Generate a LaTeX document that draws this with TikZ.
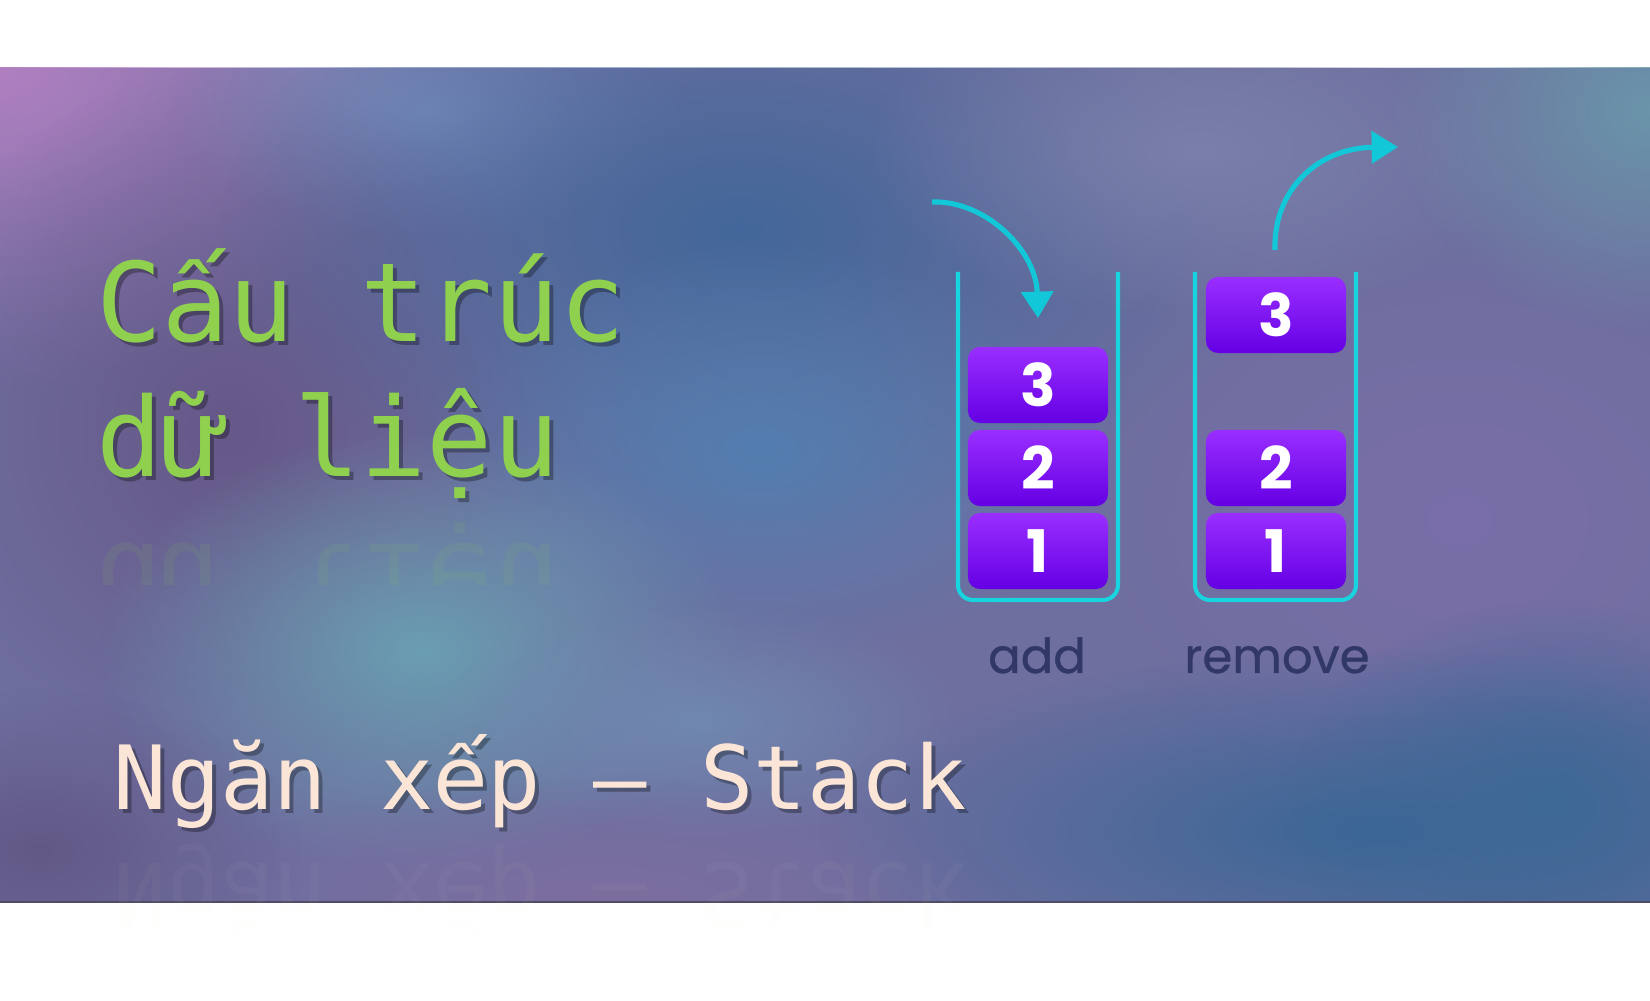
\documentclass[tikz,border=0pt]{standalone}
\usepackage{fontspec}
\newfontfamily\titlefont{DejaVu Sans Mono}
\newfontfamily\accfont{DejaVu Sans}
\newfontfamily\labelfont{Poppins}[FakeBold=0.8]
\newfontfamily\digitfont{Poppins}
\usetikzlibrary{arrows.meta,fadings}

\definecolor{bgBase}{HTML}{6E6F9F}
\definecolor{titleGreen}{HTML}{8FD14F}
\definecolor{subPeach}{HTML}{FBE5D6}
\definecolor{blkTop}{HTML}{9A2EFF}
\definecolor{blkBot}{HTML}{6400E4}
\definecolor{tubeCyan}{HTML}{18D4DE}
\definecolor{arrowCyan}{HTML}{12C8D8}
\definecolor{lblNavy}{HTML}{313868}

% 等宽字体中缺少的越南语字母, 用 DejaVu Sans 补齐
\newcommand{\monochar}[1]{\makebox[0.602em]{\accfont #1}}

\tikzfading[name=fuzzy, inner color=transparent!0, outer color=transparent!100]

\begin{document}
\begin{tikzpicture}[
        x=0.01cm, y=-0.01cm,
        >=latex,
        % 背景色块
        blob/.style={path fading=fuzzy},
        % 栈中的方块
        blk/.style={
            rectangle,
            rounded corners=0.12cm,
            minimum width=1.4cm,
            minimum height=0.76cm,
            top color=blkTop,
            bottom color=blkBot,
            text=white,
            inner sep=0pt,
            font=\digitfont\bfseries\fontsize{16.7}{20}\selectfont
        },
        % 容器
        tube/.style={
            draw=tubeCyan,
            line width=1.15pt,
            rounded corners=0.15cm
        },
        % 进出箭头
        flow/.style={
            -{Triangle[width=9pt,length=7.5pt]},
            draw=arrowCyan,
            line width=1.45pt
        },
        lbl/.style={
            anchor=base,
            inner sep=0pt,
            text=lblNavy,
            font=\labelfont\fontsize{13.7}{16}\selectfont
        },
        head/.style={
            anchor=base west,
            inner sep=0pt,
            text=titleGreen,
            font=\titlefont\fontsize{31.2}{38}\selectfont
        },
        sub/.style={
            anchor=base west,
            inner sep=0pt,
            text=subPeach,
            font=\titlefont\fontsize{25.2}{31}\selectfont
        },
        shade_text/.style={text=black, opacity=0.3}
    ]

    \useasboundingbox (0,0) rectangle (1650,1001);
    \fill[white] (0,0) rectangle (1650,1001);

    % --- 1. 背景 ---
    \begin{scope}
        \clip (0,68) rectangle (1650,902);
        \fill[bgBase] (0,68) rectangle (1650,902);
        \fill[blob, color={rgb,255:red,178;green,128;blue,194}] (0,60) ellipse [x radius=430, y radius=330];
        \fill[blob, color={rgb,255:red,124;green,142;blue,189}] (430,110) ellipse [x radius=260, y radius=130];
        \fill[blob, color={rgb,255:red,102;green,88;blue,136}] (230,430) ellipse [x radius=340, y radius=360];
        \fill[blob, color={rgb,255:red,67;green,103;blue,154}] (740,230) ellipse [x radius=520, y radius=300];
        \fill[blob, color={rgb,255:red,84;green,126;blue,176}] (760,450) ellipse [x radius=340, y radius=210];
        \fill[blob, color={rgb,255:red,106;green,158;blue,178}] (420,650) ellipse [x radius=320, y radius=220];
        \fill[blob, color={rgb,255:red,112;green,136;blue,176}] (700,720) ellipse [x radius=260, y radius=120];
        \fill[blob, color={rgb,255:red,124;green,110;blue,160}] (600,900) ellipse [x radius=420, y radius=120];
        \fill[blob, color={rgb,255:red,122;green,110;blue,168}] (1460,520) ellipse [x radius=380, y radius=290];
        \fill[blob, color={rgb,255:red,122;green,128;blue,170}] (1200,150) ellipse [x radius=340, y radius=170];
        \fill[blob, color={rgb,255:red,106;green,149;blue,170}] (1650,110) ellipse [x radius=260, y radius=220];
        \fill[blob, color={rgb,255:red,58;green,102;blue,150}] (1380,830) ellipse [x radius=560, y radius=180];
        \fill[blob, color={rgb,255:red,62;green,104;blue,150}] (1550,800) ellipse [x radius=260, y radius=200];
        \fill[blob, color={rgb,255:red,98;green,88;blue,134}] (40,850) ellipse [x radius=260, y radius=160];
    \end{scope}
    \draw[color={rgb,255:red,80;green,76;blue,104}, line width=0.5pt] (0,902) -- (1650,902);

    % --- 2. 标题 ---
    \node (t1s) [head, shade_text] at (100,346) {C\monochar{ấ}u trúc};
    \node (t2s) [head, shade_text] at (100,481) {dữ liệu};
    \node (t1) [head] at (96,342) {C\monochar{ấ}u trúc};
    \node (t2) [head] at (96,477) {dữ liệu};
    % 倒影
    \begin{scope}
        \clip (80,522) rectangle (600,585);
        \node (t2r) [head, yscale=-1, opacity=0.09] at (96,545) {dữ liệu};
    \end{scope}

    \node (subs) [sub, shade_text] at (117,814) {Ngăn x\monochar{ế}p – Stack};
    \node (subt) [sub] at (113,810) {Ngăn x\monochar{ế}p – Stack};
    \begin{scope}
        \clip (90,840) rectangle (1000,960);
        \node (subr) [sub, yscale=-1, opacity=0.035] at (113,864) {Ngăn x\monochar{ế}p – Stack};
    \end{scope}

    % --- 3. 两个栈 ---
    \draw[tube] (958,272) -- (958,600) -- (1118,600) -- (1118,272);
    \draw[tube] (1195,272) -- (1195,600) -- (1356,600) -- (1356,272);

    \node (l1) [blk] at (1038,551) {1};
    \node (l2) [blk] at (1038,468) {2};
    \node (l3) [blk] at (1038,385) {3};

    \node (r1) [blk] at (1276,551) {1};
    \node (r2) [blk] at (1276,468) {2};
    \node (r3) [blk] at (1276,315) {3};

    % 入栈 / 出栈箭头
    \coordinate (addtail) at (932,202);
    \coordinate (addtip) at (1038,318);
    \draw[flow] (addtail) .. controls (985,200) and (1036,250) .. (addtip);

    \coordinate (remtail) at (1275,250);
    \coordinate (remtip) at (1398,147);
    \draw[flow] (remtail) .. controls (1273,190) and (1318,148) .. (remtip);

    \node (addlbl) [lbl] at (1037,673) {add};
    \node (remlbl) [lbl] at (1277,673) {remove};

\end{tikzpicture}
\end{document}
